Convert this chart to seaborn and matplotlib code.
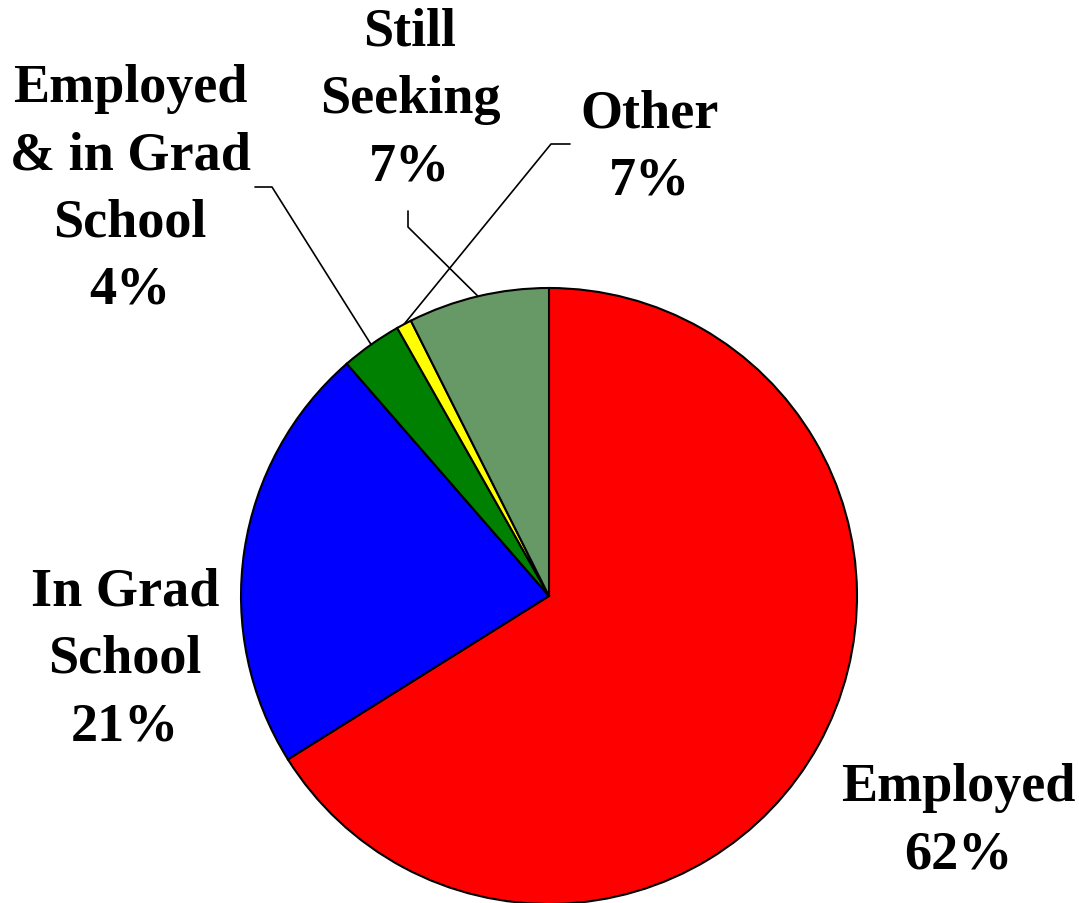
import numpy as np
import matplotlib
matplotlib.use("Agg")
import matplotlib.pyplot as plt
import seaborn as sns

# slice sizes as drawn (the printed labels differ from the drawn angles)
categories = ["Employed", "In Grad School", "Employed & in Grad School", "Other", "Still Seeking"]
shares = [66.1, 22.5, 3.2, 0.8, 7.4]
label_texts = ["Employed\n62%", "In Grad\nSchool\n21%", "Employed\n& in Grad\nSchool\n4%",
               "Other\n7%", "Still\nSeeking\n7%"]
colors = ["#FF0000", "#0000FF", "#008000", "#FFFF00", "#669966"]

sns.set_theme(style="white")
plt.rcParams["font.family"] = ["Liberation Serif", "DejaVu Serif"]

W, H = 1079, 904
fig = plt.figure(figsize=(W / 100, H / 100), dpi=100)
ax = fig.add_axes([0, 0, 1, 1])

center = (549, H - 597)
radius = 308
wedges, _ = ax.pie(shares, colors=colors, startangle=90, counterclock=False,
                   center=center, radius=radius, frame=True,
                   wedgeprops=dict(edgecolor="black", linewidth=1.5))
ax.set_xlim(0, W)
ax.set_ylim(0, H)
ax.axis("off")

# label centres (pixels from top-left)
label_pos = [(958, 822), (125, 660), (130, 190), (650, 148), (410, 100)]
for txt, (x, y) in zip(label_texts, label_pos):
    ax.text(x, H - y, txt, ha="center", va="center", fontsize=39,
            fontweight="bold", linespacing=1.45, color="black")

# leader lines: label end, elbow, then to the middle of the slice edge
leaders = {2: [(255, 188), (272, 188)],
           3: [(570, 145), (551, 145)],
           4: [(408, 212), (408, 228)]}
for i, pts in leaders.items():
    w = wedges[i]
    mid = np.deg2rad((w.theta1 + w.theta2) / 2)
    end = (center[0] + radius * np.cos(mid), center[1] + radius * np.sin(mid))
    xs = [p[0] for p in pts] + [end[0]]
    ys = [H - p[1] for p in pts] + [end[1]]
    ax.plot(xs, ys, color="black", linewidth=1.2)

fig.savefig("out.png", dpi=100, facecolor="white")
